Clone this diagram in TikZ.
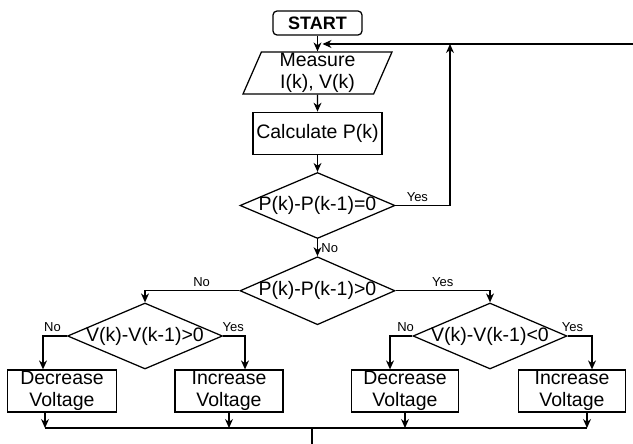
\documentclass[tikz,border=0pt]{standalone}
\usepackage{fontspec}
\setmainfont{Liberation Sans}
\usetikzlibrary{shapes.geometric,arrows.meta,positioning}

\newcommand{\dtext}[1]{\makebox[0pt]{#1}}

\begin{document}
\begin{tikzpicture}[x=1pt,y=-1pt,>={Stealth[length=9pt,width=8pt]},line width=1.25pt,
  font=\fontsize{19.5}{22}\selectfont,
  blk/.style={draw,rectangle,minimum height=42pt,inner sep=0pt,align=center},
  dec/.style={draw,diamond,minimum width=155pt,minimum height=66pt,inner sep=0pt},
  io/.style={draw,trapezium,trapezium left angle=65,trapezium right angle=115,
    trapezium stretches body,minimum width=149pt,minimum height=42pt,inner sep=0pt,align=center},
  lbl/.style={font=\fontsize{13}{15}\selectfont}]
  \useasboundingbox (0,0) rectangle (633,444);

  % MPPT main column
  \node[draw,rounded corners=4pt,minimum width=89pt,minimum height=24pt,inner sep=0pt,
    font=\fontsize{18}{20}\selectfont\bfseries] (start) at (317.5,23) {START};
  \node[io] (meas) at (317.5,73) {Measure\\I(k), V(k)};
  \node[blk,minimum width=129pt,below=17pt of meas] (calc) {Calculate P(k)};
  \node[dec,below=17pt of calc] (d1) {\dtext{P(k)-P(k-1)=0}};
  \node[dec,minimum height=68pt,below=17pt of d1] (d2) {\dtext{P(k)-P(k-1)>0}};

  % voltage checks
  \node[dec] (d3) at (145,336) {\dtext{V(k)-V(k-1)>0}};
  \node[dec,minimum width=154pt] (d4) at (490,336) {\dtext{V(k)-V(k-1)<0}};

  % voltage steps
  \node[blk,minimum width=109pt] (decl) at (62,391) {Decrease\\Voltage};
  \node[blk,minimum width=108pt] (incl) at (229,391) {Increase\\Voltage};
  \node[blk,minimum width=107pt] (decr) at (405,391) {Decrease\\Voltage};
  \node[blk,minimum width=107pt] (incr) at (572,391) {Increase\\Voltage};

  \coordinate (back) at (633,44);
  \coordinate (join) at (317.5,44);
  \coordinate (up) at (450,44);
  \coordinate (b1) at (45,428);
  \coordinate (b2) at (229,428);
  \coordinate (b3) at (405,428);
  \coordinate (b4) at (587,428);
  \coordinate (bend) at (312,428);
  \coordinate (out) at (312,444);

  \path[->]
    (start) edge (meas)
    (meas) edge (calc)
    (calc) edge (d1)
    (d1) edge node[right,lbl] {No} (d2);

  % loop back to measuring
  \draw[->,shorten >=5pt] (back) -- (join);
  \draw[->] (d1.east) -| node[pos=0.2,above,lbl] {Yes} (up);

  \draw[->] (d2.west) -| node[pos=0.2,above,lbl] {No} (d3.north);
  \draw[->] (d2.east) -| node[pos=0.25,above,lbl] {Yes} (d4.north);

  \draw[->] (d3.west) -| node[pos=0.3,above,lbl] {No} ([xshift=-19pt]decl.north);
  \draw[->] (d3.east) -| node[pos=0.23,above,lbl] {Yes} ([xshift=16pt]incl.north);
  \draw[->] (d4.west) -| node[pos=0.15,above,lbl] {No} ([xshift=-15pt]decr.north);
  \draw[->] (d4.east) -| node[pos=0.1,above,lbl] {Yes} ([xshift=20pt]incr.north);

  % merge of the four steps
  \draw[->] (decl.south -| b1) -- (b1);
  \draw[->] (incl.south -| b2) -- (b2);
  \draw[->] (decr.south -| b3) -- (b3);
  \draw[->] (incr.south -| b4) -- (b4);
  \draw (b1) -- (b4);
  \draw (bend) -- (out);
\end{tikzpicture}
\end{document}
